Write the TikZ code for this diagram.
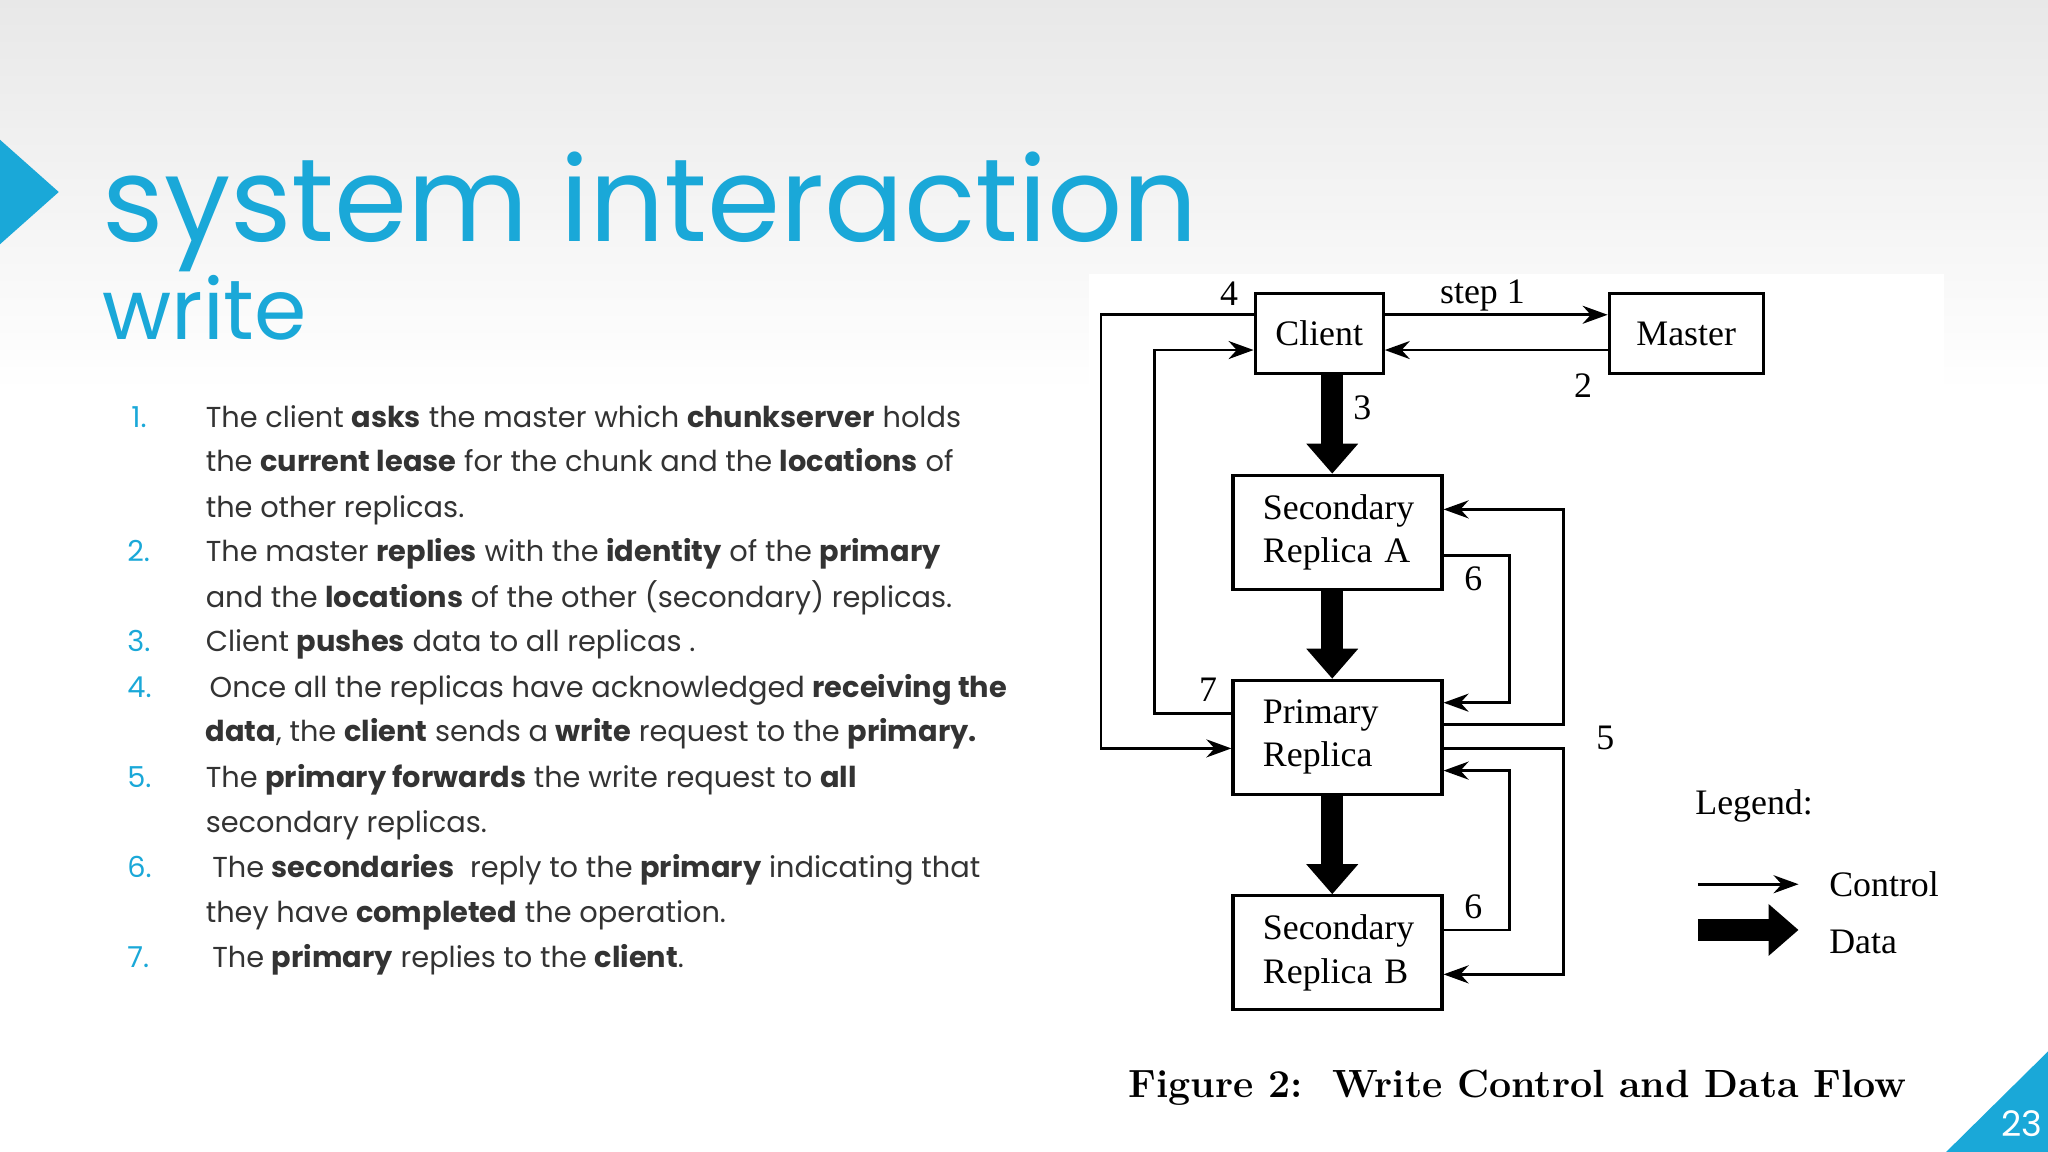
\documentclass[tikz,border=0pt]{standalone}
\usepackage{fontspec}
\setmainfont{Poppins}
\newfontfamily\dserif{Liberation Serif}
\newfontfamily\lmr{Latin Modern Roman}
\usetikzlibrary{arrows.meta}
\definecolor{cy}{HTML}{1AA8D8}
\definecolor{tx}{HTML}{333333}
\begin{document}
\begin{tikzpicture}[x=0.01306cm,y=-0.01306cm,
  li/.style={anchor=base west,text=tx,font=\fontsize{8.2}{10}\selectfont,inner sep=0},
  num/.style={anchor=base west,text=cy,font=\fontsize{8.2}{10}\selectfont,inner sep=0},
  bx/.style={draw,line width=0.9pt,font=\dserif\fontsize{10.2}{12.3}\selectfont,inner sep=0},
  rep/.style={bx,minimum width=2.09cm,minimum height=1.14cm,align=left,inner xsep=0.3cm,inner ysep=0pt,text width=1.49cm},
  lab/.style={font=\dserif\fontsize{10.2}{12}\selectfont,inner sep=0},
  ctl/.style={line width=0.8pt,-{Stealth[length=2.5mm,width=1.8mm]}},
  dat/.style={line width=2.2mm,-{Triangle[length=3mm,width=5mm]}}]
\shade[top color=black!9,bottom color=white] (0,0) rectangle (1568,300);
\useasboundingbox (0,0) rectangle (1568,882);
\fill[white] (834,210) rectangle (1488,882);
\fill[cy] (0,107) -- (45,147) -- (0,187) -- cycle;
\node[anchor=base west,text=cy,inner sep=0,font=\fontsize{33.5}{38}\selectfont] (t1) at (78,185) {system interaction};
\node[anchor=base west,text=cy,inner sep=0,font=\fontsize{24}{28}\selectfont] (t2) at (78,260) {write};
% list
\node[num] (n1) at (100,327) {1.};
\node[li] (l1a) at (157,327) {The client \textbf{asks} the master which \textbf{chunkserver} holds};
\node[li] (l1b) at (157,361) {the \textbf{current lease} for the chunk and the \textbf{locations} of};
\node[li] (l1c) at (157,396) {the other replicas.};
\node[num] (n2) at (97,430) {2.};
\node[li] (l2a) at (157,430) {The master \textbf{replies} with the \textbf{identity} of the \textbf{primary}};
\node[li] (l2b) at (157,465) {and the \textbf{locations} of the other (secondary) replicas.};
\node[num] (n3) at (97,499) {3.};
\node[li] (l3) at (157,499) {Client \textbf{pushes} data to all replicas .};
\node[num] (n4) at (97,534) {4.};
\node[li] (l4a) at (160,534) {Once all the replicas have acknowledged \textbf{receiving the}};
\node[li] (l4b) at (157,568) {\textbf{data}, the \textbf{client} sends a \textbf{write} request to the \textbf{primary.}};
\node[num] (n5) at (97,603) {5.};
\node[li] (l5a) at (157,603) {The \textbf{primary forwards} the write request to \textbf{all}};
\node[li] (l5b) at (157,637) {secondary replicas.};
\node[num] (n6) at (97,672) {6.};
\node[li] (l6a) at (162,672) {The \textbf{secondaries}\ \ reply to the \textbf{primary} indicating that};
\node[li] (l6b) at (157,706) {they have \textbf{completed} the operation.};
\node[num] (n7) at (97,741) {7.};
\node[li] (l7) at (162,741) {The \textbf{primary} replies to the \textbf{client}.};
% diagram
\node[bx,minimum width=1.28cm,minimum height=0.8cm] (cl) at (1010,255.5) {Client};
\node[bx,minimum width=1.54cm,minimum height=0.8cm] (ma) at (1291,255.5) {Master};
\node[rep] (sa) at (1024,407.5) {Secondary\\Replica A};
\node[rep] (pr) at (1024,564.5) {Primary\\Replica};
\node[rep] (sb) at (1024,729.5) {Secondary\\Replica B};
\foreach \y in {241,268,390,425,538,546,555,573,590,712,746} \coordinate (r\y) at (0,\y);
\coordinate (x1020) at (1020,0);
\draw[ctl] (cl.east |- r241) -- (ma.west |- r241);
\draw[ctl] (ma.west |- r268) -- (cl.east |- r268);
\node[lab] (s1) at (1135,226) {step 1};
\node[lab] (s2) at (1212,295) {2};
\draw[dat] (x1020 |- cl.south) -- (x1020 |- sa.north);
\draw[dat] (x1020 |- sa.south) -- (x1020 |- pr.north);
\draw[dat] (x1020 |- pr.south) -- (x1020 |- sb.north);
\node[lab] (s3) at (1043,312) {3};
\draw[ctl] (cl.west |- r241) -- (843,241) -- (843,573) -- (pr.west |- r573);
\node[lab] (s4) at (941,225) {4};
\draw[ctl] (pr.west |- r546) -- (884,546) -- (884,268) -- (cl.west |- r268);
\node[lab] (s7) at (925,528) {7};
\draw[ctl] (pr.east |- r555) -- (1197,555) -- (1197,390) -- (sa.east |- r390);
\draw[ctl] (pr.east |- r573) -- (1197,573) -- (1197,746) -- (sb.east |- r746);
\node[lab] (s5) at (1229,565) {5};
\draw[ctl] (sa.east |- r425) -- (1156,425) -- (1156,538) -- (pr.east |- r538);
\draw[ctl] (sb.east |- r712) -- (1156,712) -- (1156,590) -- (pr.east |- r590);
\node[lab] (s6a) at (1128,443) {6};
\node[lab] (s6b) at (1128,694) {6};
\node[lab] (lg) at (1343,617) {Legend:};
\coordinate (c1) at (1300,677); \coordinate (c2) at (1377,677);
\draw[ctl] (c1) -- (c2);
\coordinate (d1) at (1300,712); \coordinate (d2) at (1377,712);
\draw[dat] (d1) -- (d2);
\node[lab,anchor=west] (lc) at (1400,677) {Control};
\node[lab,anchor=west] (ld) at (1400,721) {Data};
\node[font=\lmr\bfseries\fontsize{11.2}{14}\selectfont,inner sep=0] (cap) at (1162,833) {Figure 2:\ \ Write Control and Data Flow};
% page number
\fill[cy] (1490,882) -- (1568,805) -- (1568,882) -- cycle;
\node[text=white,font=\fontsize{10}{12}\selectfont,inner sep=0] (pg) at (1548,860) {23};
\end{tikzpicture}
\end{document}
